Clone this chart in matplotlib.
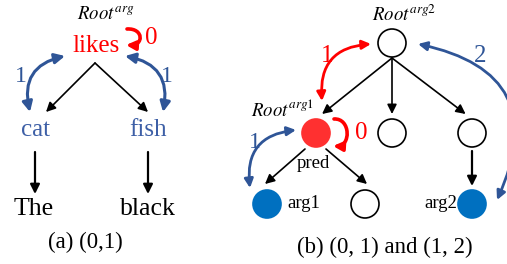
import matplotlib
matplotlib.use("Agg")
import matplotlib.pyplot as plt
from matplotlib.patches import Circle, FancyArrowPatch
from matplotlib.path import Path

plt.rcParams['font.family'] = ['Liberation Serif', 'DejaVu Serif']
plt.rcParams['mathtext.fontset'] = 'stix'

# words / labels of the two panels
words_a = ['likes', 'cat', 'fish', 'The', 'black']
hops_a = ['0', '1', '1']
hops_b = ['1', '2', '0', '1']
roles_b = ['pred', 'arg1', 'arg2']
captions = ['(a) (0,1)', '(b) (0, 1) and (1, 2)']

RED = '#ff0000'
RED_NODE = '#ff3030'
BLUE_TXT = '#3d5fa6'
BLUE_ARR = '#2f5597'
BLUE_NODE = '#0070c0'

fig = plt.figure(figsize=(5.07, 2.64), dpi=100)
ax = fig.add_axes([0, 0, 1, 1])
ax.set_xlim(0, 507)
ax.set_ylim(264, 0)
ax.axis('off')


def arrow(p1, p2, color='k', rad=0.0, both=False, lw=1.2, ms=14):
    style = '<|-|>' if both else '-|>'
    a = FancyArrowPatch(p1, p2, arrowstyle=style, mutation_scale=ms,
                        connectionstyle='arc3,rad=%s' % rad,
                        color=color, lw=lw, shrinkA=0, shrinkB=0)
    ax.add_patch(a)


def curl(x, y0, y1, w):
    # small self-loop, bulging right, head at the bottom pointing left
    p = Path([(x, y0), (x + w, y0 - 1), (x + w, y1 + 1), (x - 1, y1)],
             [Path.MOVETO, Path.CURVE4, Path.CURVE4, Path.CURVE4])
    ax.add_patch(FancyArrowPatch(path=p, arrowstyle='-|>', mutation_scale=13,
                                 color=RED, lw=2.6))


def node(x, y, fc='white'):
    ax.add_patch(Circle((x, y), 14, fc=fc, ec='k' if fc == 'white' else fc, lw=1.2))


# ---------- panel (a) ----------
ax.text(106, 15, r'$\mathit{Root}^{arg}$', fontsize=13.5, ha='center', va='center')
ax.text(96, 46, words_a[0], color=RED, fontsize=18, ha='center', va='center')
curl(127, 29, 45, 17)
ax.text(151, 38, hops_a[0], color=RED, fontsize=18, ha='center', va='center')

arrow((95, 63), (46, 112))
arrow((95, 63), (148, 112))

arrow((65, 56), (30, 112), color=BLUE_ARR, rad=0.5, both=True, lw=2.2, ms=15)
arrow((125, 56), (163, 112), color=BLUE_ARR, rad=-0.5, both=True, lw=2.2, ms=15)
ax.text(21, 77, hops_a[1], color=BLUE_ARR, fontsize=17, ha='center', va='center')
ax.text(167, 77, hops_a[2], color=BLUE_ARR, fontsize=17, ha='center', va='center')

ax.text(35, 130, words_a[1], color=BLUE_TXT, fontsize=18, ha='center', va='center')
ax.text(148, 130, words_a[2], color=BLUE_TXT, fontsize=18, ha='center', va='center')
arrow((35, 152), (35, 194), lw=1.6)
arrow((148, 152), (148, 194), lw=1.6)
ax.text(34, 209, words_a[3], fontsize=18.5, ha='center', va='center')
ax.text(148, 209, words_a[4], fontsize=18.5, ha='center', va='center')
ax.text(85, 242, captions[0], fontsize=16.5, ha='center', va='center')

# ---------- panel (b) ----------
top = (392, 43)
row2 = [(316, 133), (392, 133), (472, 133)]
row3 = [(267, 204), (365, 204), (472, 204)]

ax.text(404, 15, r'$\mathit{Root}^{arg2}$', fontsize=13.5, ha='center', va='center')
node(*top)
for (x, y) in row2:
    arrow((top[0], top[1] + 15), (x + (top[0] - x) * 0.08, y - 19))
node(*row2[0], fc=RED_NODE)
node(*row2[1])
node(*row2[2])

ax.text(282, 110, r'$\mathit{Root}^{arg1}$', fontsize=13.5, ha='center', va='center')

arrow((371, 44), (322, 101), color=RED, rad=0.5, both=True, lw=2, ms=13)
ax.text(327, 56, hops_b[0], color=RED, fontsize=18, ha='center', va='center')

arrow((418, 44), (497, 200), color=BLUE_ARR, rad=-0.62, both=True, lw=2, ms=13)
ax.text(480, 56, hops_b[1], color=BLUE_ARR, fontsize=18, ha='center', va='center')

curl(334, 119, 146, 17)
ax.text(361, 133, hops_b[2], color=RED, fontsize=18, ha='center', va='center')

arrow((296, 130), (250, 188), color=BLUE_ARR, rad=0.5, both=True, lw=2, ms=13)
ax.text(255, 142, hops_b[3], color=BLUE_ARR, fontsize=17, ha='center', va='center')

ax.text(313, 164, roles_b[0], fontsize=13.5, ha='center', va='center')
arrow((305, 149), (265, 184))
arrow((326, 149), (367, 184))
arrow((472, 151), (472, 186), lw=1.6)

node(*row3[0], fc=BLUE_NODE)
node(*row3[1])
node(*row3[2], fc=BLUE_NODE)
ax.text(287, 204, roles_b[1], fontsize=13.5, ha='left', va='center')
ax.text(457, 204, roles_b[2], fontsize=13.5, ha='right', va='center')

ax.text(385, 247, captions[1], fontsize=16.5, ha='center', va='center')

fig.savefig('out.png', dpi=100)
